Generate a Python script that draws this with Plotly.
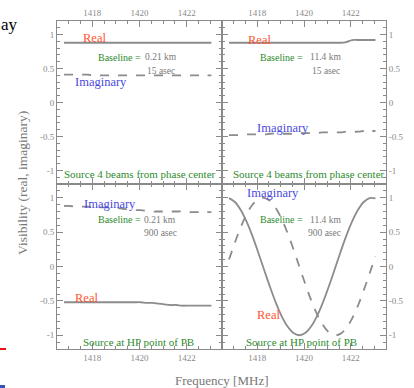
import plotly.graph_objects as go

# ---------------- data ----------------
freq = [1416.80, 1417.05, 1417.30, 1417.55, 1417.80, 1418.05, 1418.30, 1418.55,
        1418.80, 1419.05, 1419.30, 1419.55, 1419.80, 1420.05, 1420.30, 1420.55,
        1420.80, 1421.05, 1421.30, 1421.55, 1421.80, 1422.05, 1422.30, 1422.55,
        1422.80, 1423.05]

# top-left: source 4 beams from phase centre, baseline 0.21 km
tl_real = [0.88] * 26
tl_imag = [0.41, 0.41, 0.41, 0.41, 0.41, 0.40, 0.40, 0.40, 0.40, 0.40, 0.40, 0.40, 0.40,
           0.40, 0.40, 0.40, 0.40, 0.40, 0.40, 0.40, 0.40, 0.40, 0.40, 0.40, 0.40, 0.40]

# top-right: source 4 beams from phase centre, baseline 11.4 km
tr_real = [0.88, 0.88, 0.88, 0.88, 0.88, 0.88, 0.88, 0.88, 0.88, 0.88, 0.88, 0.88, 0.88,
           0.88, 0.88, 0.88, 0.88, 0.88, 0.88, 0.88, 0.89, 0.92, 0.92, 0.92, 0.92, 0.92]
tr_imag = [-0.48, -0.48, -0.48, -0.47, -0.47, -0.47, -0.47, -0.46, -0.46, -0.46, -0.46,
           -0.46, -0.45, -0.45, -0.45, -0.45, -0.44, -0.44, -0.44, -0.44, -0.43, -0.43,
           -0.43, -0.42, -0.42, -0.42]

# bottom-left: source at HP point of PB, baseline 0.21 km
bl_real = [-0.52, -0.52, -0.52, -0.52, -0.52, -0.52, -0.52, -0.52, -0.52, -0.52, -0.52,
           -0.52, -0.52, -0.52, -0.53, -0.53, -0.54, -0.55, -0.56, -0.56, -0.57, -0.57,
           -0.57, -0.57, -0.57, -0.57]
bl_imag = [0.88, 0.88, 0.87, 0.87, 0.87, 0.86, 0.86, 0.86, 0.86, 0.85, 0.84, 0.83, 0.82,
           0.82, 0.81, 0.80, 0.80, 0.80, 0.80, 0.80, 0.80, 0.79, 0.79, 0.79, 0.79, 0.79]

# bottom-right: source at HP point of PB, baseline 11.4 km
br_real = [0.995, 0.938, 0.821, 0.651, 0.441, 0.201, -0.051, -0.299, -0.529, -0.725,
           -0.874, -0.968, -1.000, -0.968, -0.874, -0.725, -0.529, -0.299, -0.051, 0.201,
           0.441, 0.651, 0.821, 0.938, 0.995, 0.991]
br_imag = [0.101, 0.347, 0.571, 0.759, 0.898, 0.980, 0.999, 0.954, 0.849, 0.689, 0.486,
           0.251, 0.000, -0.251, -0.486, -0.689, -0.849, -0.954, -0.999, -0.980, -0.898,
           -0.759, -0.571, -0.347, -0.101, 0.151]

x_tick_vals = [1418, 1420, 1422]
x_tick_text = ["1418", "1420", "1422"]
y_tick_vals = [-1, -0.5, 0, 0.5, 1]
y_tick_text = ["-1", "-0.5", "0", "0.5", "1"]

x_range = [1416.5, 1423.5]
y_range = [-1.2, 1.2]

# ---------------- styling ----------------
W, H = 414, 388
SERIF = "Liberation Serif"
LINE_C = "#8c8c8c"
AX_C = "#8a8a8a"
TICK_FONT = dict(family=SERIF, size=9, color="#8a8a8a")
RED = "#ff5530"
BLUE = "#4a4ae0"
GREEN = "#2e8b2e"
GREY_TXT = "#7a7a7a"

xl = [57 / W, 222 / W]
xr = [222 / W, 386 / W]
yt = [1 - 184 / H, 1 - 21 / H]
yb = [1 - 349 / H, 1 - 184 / H]

fig = go.Figure()

panels = [
    ("x", "y", tl_real, tl_imag),
    ("x2", "y2", tr_real, tr_imag),
    ("x3", "y3", bl_real, bl_imag),
    ("x4", "y4", br_real, br_imag),
]
for xa, ya, re, im in panels:
    fig.add_trace(go.Scatter(x=freq, y=re, mode="lines", xaxis=xa, yaxis=ya,
                             line=dict(color=LINE_C, width=1.8), showlegend=False,
                             line_shape="spline"))
    fig.add_trace(go.Scatter(x=freq, y=im, mode="lines", xaxis=xa, yaxis=ya,
                             line=dict(color=LINE_C, width=1.8, dash="dash"),
                             showlegend=False, line_shape="spline"))


def xaxis(dom, side, anchor):
    return dict(domain=dom, range=x_range, side=side, anchor=anchor,
                tickvals=x_tick_vals, ticktext=x_tick_text, ticks="inside",
                ticklen=6, tickcolor=AX_C, tickwidth=1,
                minor=dict(dtick=0.5, ticks="inside", ticklen=3, tickcolor=AX_C),
                showline=True, linecolor=AX_C, linewidth=1, mirror="allticks",
                showgrid=False, zeroline=False, tickfont=TICK_FONT, fixedrange=True)


def yaxis(dom, side, anchor, labels=True):
    return dict(domain=dom, range=y_range, side=side, anchor=anchor,
                tickvals=y_tick_vals, ticktext=y_tick_text, ticks="inside",
                ticklen=6, tickcolor=AX_C, tickwidth=1,
                minor=dict(dtick=0.1, ticks="inside", ticklen=3, tickcolor=AX_C),
                showline=True, linecolor=AX_C, linewidth=1, mirror="allticks",
                showgrid=False, zeroline=False, tickfont=TICK_FONT,
                showticklabels=labels, fixedrange=True)


fig.update_layout(
    width=W, height=H,
    margin=dict(l=0, r=0, t=0, b=0),
    paper_bgcolor="white", plot_bgcolor="white",
    xaxis=xaxis(xl, "top", "y"),
    yaxis=yaxis(yt, "left", "x"),
    xaxis2=xaxis(xr, "top", "y2"),
    yaxis2=yaxis(yt, "right", "x2"),
    xaxis3=xaxis(xl, "bottom", "y3"),
    yaxis3=yaxis(yb, "left", "x3"),
    xaxis4=xaxis(xr, "bottom", "y4"),
    yaxis4=yaxis(yb, "right", "x4"),
    showlegend=False,
)


def txt(xref, yref, x, y, s, color, size):
    fig.add_annotation(xref=xref, yref=yref, x=x, y=y, text=s,
                       showarrow=False, xanchor="left", yanchor="middle",
                       font=dict(family=SERIF, size=size, color=color))


# top-left
txt("x", "y", 1417.52, 0.95, "Real", RED, 12.5)
txt("x", "y", 1417.18, 0.30, "Imaginary", BLUE, 12.5)
txt("x", "y", 1418.15, 0.67, "Baseline =", GREEN, 10)
txt("x", "y", 1420.15, 0.67, "0.21 km", GREY_TXT, 9.5)
txt("x", "y", 1420.23, 0.46, "15 asec", GREY_TXT, 9.5)
txt("x", "y", 1416.72, -1.05, "Source 4 beams from phase center", GREEN, 11)
# top-right
txt("x2", "y2", 1417.52, 0.92, "Real", RED, 12.5)
txt("x2", "y2", 1417.90, -0.37, "Imaginary", BLUE, 12.5)
txt("x2", "y2", 1418.04, 0.67, "Baseline =", GREEN, 10)
txt("x2", "y2", 1420.17, 0.67, "11.4 km", GREY_TXT, 9.5)
txt("x2", "y2", 1420.26, 0.46, "15 asec", GREY_TXT, 9.5)
txt("x2", "y2", 1416.90, -1.05, "Source 4 beams from phase center", GREEN, 11)
# bottom-left
txt("x3", "y3", 1417.56, 0.91, "Imaginary", BLUE, 12.5)
txt("x3", "y3", 1418.15, 0.68, "Baseline =", GREEN, 10)
txt("x3", "y3", 1420.10, 0.68, "0.21 km", GREY_TXT, 9.5)
txt("x3", "y3", 1420.10, 0.49, "900 asec", GREY_TXT, 9.5)
txt("x3", "y3", 1417.18, -0.46, "Real", RED, 12.5)
txt("x3", "y3", 1417.50, -1.10, "Source at HP point of PB", GREEN, 11)
# bottom-right
txt("x4", "y4", 1417.48, 1.07, "Imaginary", BLUE, 12.5)
txt("x4", "y4", 1418.04, 0.68, "Baseline =", GREEN, 10)
txt("x4", "y4", 1420.17, 0.68, "11.4 km", GREY_TXT, 9.5)
txt("x4", "y4", 1420.10, 0.49, "900 asec", GREY_TXT, 9.5)
txt("x4", "y4", 1417.90, -0.70, "Real", RED, 12.5)
txt("x4", "y4", 1417.46, -1.10, "Source at HP point of PB", GREEN, 11)

# axis titles
fig.add_annotation(xref="paper", yref="paper", x=222 / W, y=1 - 380 / H,
                   text="Frequency [MHz]", showarrow=False, xanchor="center",
                   yanchor="middle", font=dict(family=SERIF, size=13, color="#777777"))
fig.add_annotation(xref="paper", yref="paper", x=22 / W, y=1 - 183 / H,
                   text="Visibility (real, imaginary)", showarrow=False, textangle=-90,
                   xanchor="center", yanchor="middle",
                   font=dict(family=SERIF, size=13.5, color="#777777"))

# page fragments around the figure
fig.add_annotation(xref="paper", yref="paper", x=0, y=1 - 24 / H, text="ay",
                   showarrow=False, xanchor="left", yanchor="middle", borderpad=0,
                   font=dict(family=SERIF, size=17, color="black"))
fig.add_shape(type="line", xref="paper", yref="paper", x0=0, x1=6 / W,
              y0=1 - 349 / H, y1=1 - 349 / H, line=dict(color="#ee1111", width=2))
fig.add_shape(type="rect", xref="paper", yref="paper", x0=0, x1=5 / W,
              y0=0, y1=3 / H, line=dict(width=0), fillcolor="#3355bb")

fig.write_html("out.html")
